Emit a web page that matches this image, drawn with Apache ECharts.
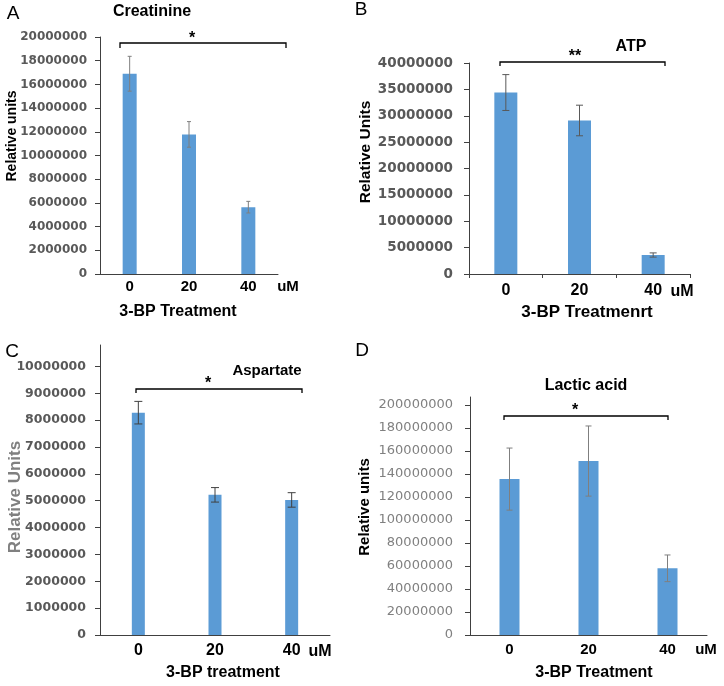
<!DOCTYPE html>
<html>
<head>
    <meta charset="UTF-8"/>
    <title>3-BP metabolites</title>
    <script type="text/javascript" src="https://cdn.jsdelivr.net/npm/echarts@6.0.0/dist/echarts.min.js"></script>
    <style>
        html, body { margin: 0; padding: 0; background: #fff; }
        #main { width: 724px; height: 686px; }
    </style>
</head>
<body>
<div id="main"></div>
<script>
    // doses of 3-BP (uM)
    var doses = ['0', '20', '40'];

    // A - Creatinine
    var creatinine = [16900000, 11780000, 5640000];
    var creatinineErr = [1470000, 1080000, 490000];
    var ticksA = [0, 2000000, 4000000, 6000000, 8000000, 10000000, 12000000, 14000000, 16000000, 18000000, 20000000];

    // B - ATP
    var atp = [34400000, 29100000, 3600000];
    var atpErr = [3400000, 2900000, 400000];
    var ticksB = [0, 5000000, 10000000, 15000000, 20000000, 25000000, 30000000, 35000000, 40000000];

    // C - Aspartate
    var aspartate = [8280000, 5220000, 5030000];
    var aspartateErr = [420000, 270000, 270000];
    var ticksC = [0, 1000000, 2000000, 3000000, 4000000, 5000000, 6000000, 7000000, 8000000, 9000000, 10000000];

    // D - Lactic acid
    var lactic = [135600000, 151300000, 58000000];
    var lacticErr = [27000000, 30500000, 11600000];
    var ticksD = [0, 20000000, 40000000, 60000000, 80000000, 100000000, 120000000, 140000000, 160000000, 180000000, 200000000];

    var BAR = '#5b9bd5';
    var LAB = '"Liberation Sans", Arial, sans-serif';
    var NUM = '"DejaVu Sans", sans-serif';

    var panels = [
        {grid: {left: 100, top: 37, width: 178, height: 237}, max: 20000000, ticks: ticksA,
         vals: creatinine, err: creatinineErr, barWidth: 14, cap: 4, errColor: '#7f7f7f',
         ylab: {fontSize: 12, fontWeight: 'bold', color: '#595959', margin: 13},
         xlab: {fontSize: 15, margin: 5}, xTick: false},
        {grid: {left: 469, top: 63, width: 221, height: 211}, max: 40000000, ticks: ticksB,
         vals: atp, err: atpErr, barWidth: 23, cap: 7, errColor: '#595959',
         ylab: {fontSize: 13.5, fontWeight: 'bold', color: '#595959', margin: 16},
         xlab: {fontSize: 16, margin: 9}, xTick: true},
        {grid: {left: 100, top: 345, width: 230, height: 290}, max: 10800000, ticks: ticksC,
         vals: aspartate, err: aspartateErr, barWidth: 13, cap: 8, errColor: '#404040',
         ylab: {fontSize: 12.5, fontWeight: 'bold', color: '#595959', margin: 14},
         xlab: {fontSize: 16, margin: 8}, xTick: false},
        {grid: {left: 470, top: 397, width: 237, height: 238}, max: 207000000, ticks: ticksD,
         vals: lactic, err: lacticErr, barWidth: 20, cap: 6, errColor: '#7f7f7f',
         ylab: {fontSize: 13, fontWeight: 'normal', color: '#808080', margin: 17},
         xlab: {fontSize: 15, margin: 7}, xTick: false}
    ];

    function errorBars(idx, p) {
        return {
            type: 'custom',
            xAxisIndex: idx,
            yAxisIndex: idx,
            z: 5,
            silent: true,
            data: p.vals.map(function (v, k) { return [k, v - p.err[k], v + p.err[k]]; }),
            renderItem: function (params, api) {
                var lo = api.coord([api.value(0), api.value(1)]);
                var hi = api.coord([api.value(0), api.value(2)]);
                var x = lo[0], c = p.cap / 2;
                var st = {stroke: p.errColor, lineWidth: 1};
                return {
                    type: 'group',
                    children: [
                        {type: 'line', shape: {x1: x, y1: lo[1], x2: x, y2: hi[1]}, style: st},
                        {type: 'line', shape: {x1: x - c, y1: lo[1], x2: x + c, y2: lo[1]}, style: st},
                        {type: 'line', shape: {x1: x - c, y1: hi[1], x2: x + c, y2: hi[1]}, style: st}
                    ]
                };
            }
        };
    }

    var grids = [], xAxes = [], yAxes = [], series = [];
    panels.forEach(function (p, i) {
        grids.push(p.grid);
        xAxes.push({
            gridIndex: i,
            type: 'category',
            data: doses,
            axisLine: {lineStyle: {color: '#404040', width: 1}},
            axisTick: {show: p.xTick, length: 4, lineStyle: {color: '#404040'}},
            axisLabel: {color: '#000', fontWeight: 'bold', fontFamily: LAB,
                fontSize: p.xlab.fontSize, margin: p.xlab.margin}
        });
        yAxes.push({
            gridIndex: i,
            type: 'value',
            min: 0,
            max: p.max,
            splitLine: {show: false},
            axisLine: {show: true, lineStyle: {color: '#404040', width: 1}},
            axisTick: {show: true, length: 5, customValues: p.ticks, lineStyle: {color: '#404040'}},
            axisLabel: {customValues: p.ticks, color: p.ylab.color, fontWeight: p.ylab.fontWeight,
                fontFamily: NUM, fontSize: p.ylab.fontSize, margin: p.ylab.margin,
                formatter: function (v) { return String(v); }}
        });
        series.push({
            type: 'bar',
            xAxisIndex: i,
            yAxisIndex: i,
            barWidth: p.barWidth,
            itemStyle: {color: BAR},
            data: p.vals
        });
        series.push(errorBars(i, p));
    });

    function txt(x, y, text, size, weight, color, rot) {
        return {
            type: 'text', x: x, y: y, rotation: rot || 0,
            style: {text: text, fill: color || '#000', fontSize: size, fontWeight: weight || 'bold',
                fontFamily: LAB, textAlign: 'center', textVerticalAlign: 'middle'}
        };
    }
    function bracket(x1, x2, y, drop) {
        return {
            type: 'polyline',
            shape: {points: [[x1, y + drop], [x1, y], [x2, y], [x2, y + drop]]},
            style: {stroke: '#000', lineWidth: 1.3, fill: null}
        };
    }

    var R = Math.PI / 2;
    var graphics = [
        // panel letters
        txt(13, 14, 'A', 19, 'normal'), txt(361, 10, 'B', 19, 'normal'),
        txt(12, 352, 'C', 19, 'normal'), txt(362, 351, 'D', 19, 'normal'),
        // titles
        txt(152, 12, 'Creatinine', 16), txt(631, 47, 'ATP', 16),
        txt(267, 371, 'Aspartate', 15), txt(586, 386, 'Lactic acid', 16),
        // significance
        bracket(120, 286, 43, 5), txt(192, 39, '*', 16),
        bracket(500, 665, 62, 4), txt(575, 57, '**', 16),
        bracket(136, 302, 389, 4), txt(208, 384, '*', 16),
        bracket(504, 668, 416, 4), txt(575, 411, '*', 16),
        // unit labels
        txt(288, 287, 'uM', 15), txt(682, 292, 'uM', 16),
        txt(320, 652, 'uM', 16), txt(706, 650, 'uM', 15),
        // x names
        txt(178, 312, '3-BP Treatment', 16), txt(587, 312, '3-BP Treatmenrt', 17),
        txt(223, 673, '3-BP treatment', 16), txt(594, 673, '3-BP Treatment', 16),
        // y names
        txt(12, 136, 'Relative units', 14, 'bold', '#000', R),
        txt(366, 152, 'Relative Units', 15.5, 'bold', '#000', R),
        txt(15, 497, 'Relative Units', 17, 'bold', '#808080', R),
        txt(365, 507, 'Relative units', 15, 'bold', '#000', R)
    ];

    var chart = echarts.init(document.getElementById('main'));
    chart.setOption({
        animation: false,
        backgroundColor: '#fff',
        grid: grids,
        xAxis: xAxes,
        yAxis: yAxes,
        series: series,
        graphic: graphics
    });
</script>
</body>
</html>
